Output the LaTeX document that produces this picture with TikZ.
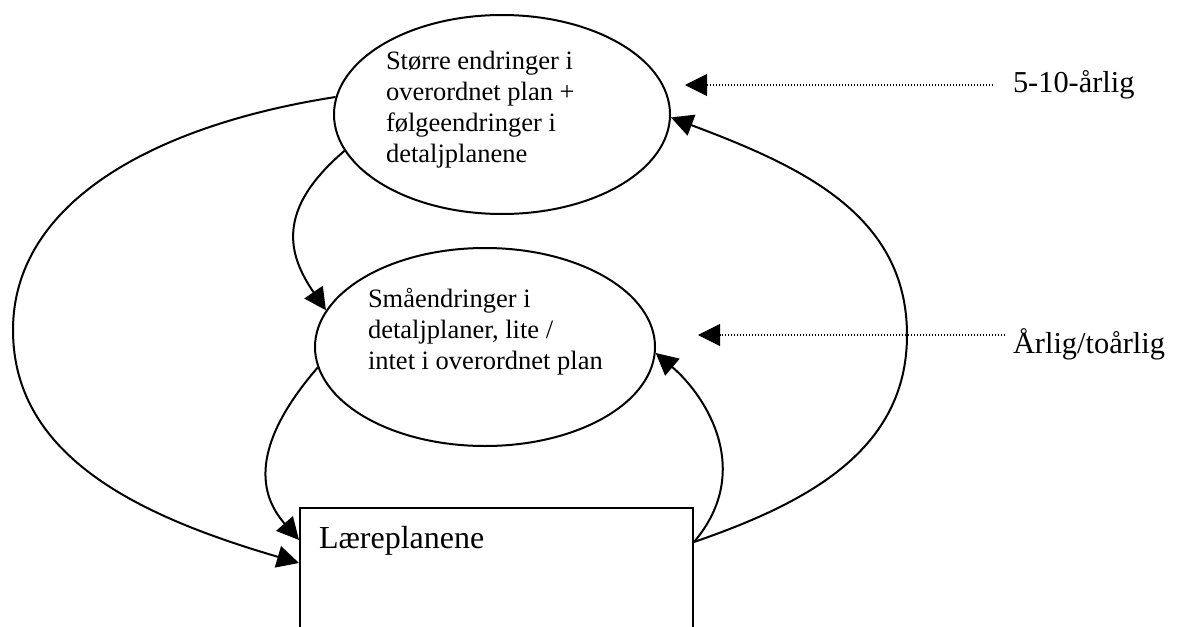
\documentclass[tikz,border=0pt]{standalone}
\usepackage{fontspec}
\setmainfont{Liberation Serif}
\usetikzlibrary{arrows.meta,shapes.geometric,calc}

\begin{document}
\begin{tikzpicture}[x=0.5pt,y=-0.5pt,line width=1pt,
  bubble/.style={draw,ellipse,inner sep=0pt},
  bubbletext/.style={inner sep=0pt,align=left,font=\fontsize{13.25pt}{15.6pt}\selectfont},
  planbox/.style={draw,rectangle,inner sep=0pt},
  sidelabel/.style={inner sep=0pt,font=\fontsize{15.2pt}{18pt}\selectfont},
  flow/.style={-{Triangle[length=11pt,width=11pt]}},
  pace/.style={line width=0.55pt,dash pattern=on 0.55pt off 0.95pt,-{Triangle[length=11pt,width=11pt]}}]
\useasboundingbox (0,0) rectangle (1192,626);

% the two kinds of revision
\node[bubble,minimum width=168pt,minimum height=99.5pt] (major) at (502,114.5) {};
\node[bubbletext,anchor=north west] (majortext) at (385,50)
  {Større endringer i\\overordnet plan +\\følgeendringer i\\detaljplanene};

\node[bubble,minimum width=170pt,minimum height=99pt] (minor) at (485,347) {};
\node[bubbletext,anchor=north west] (minortext) at (367,287)
  {Småendringer i\\detaljplaner, lite /\\intet i overordnet plan};

% the curricula themselves
\node[planbox,anchor=north west,minimum width=196.5pt,minimum height=100pt] (plans) at (299,507) {};
\node[inner sep=0pt,anchor=base west,font=\fontsize{16pt}{19pt}\selectfont] (planstext) at (318,548) {Læreplanene};

% how often each kind occurs
\node[sidelabel,anchor=base west] (rare) at (1012,93) {5-10-årlig};
\node[sidelabel,anchor=base west] (often) at (1012,353) {Årlig/toårlig};
\coordinate (rarefrom) at (993,85);
\coordinate (rareto) at (685,85);
\coordinate (oftenfrom) at (1005,335);
\coordinate (oftento) at (698,335);
\draw[pace] (rarefrom) -- (rareto);
\draw[pace] (oftenfrom) -- (oftento);

% cycle connectors
\draw[flow] (major.174.4) .. controls (155,125) and (13,202) .. (13,330)
  .. controls (13,458) and (142,517) .. ($(plans.north west)+(0,56)$);
\draw[flow] (major.193.3) .. controls (275,210) and (288,255) .. (minor.167.5);
\draw[flow] (minor.187.4) .. controls (255,440) and (255,490) .. ($(plans.north west)+(0,33)$);
\draw[flow] ($(plans.north east)+(0,35)$) .. controls (755,470) and (705,395) .. (minor.358);
\draw[flow] ($(plans.north east)+(0,35)$) .. controls (810,502) and (907,449) .. (907,335)
  .. controls (907,214) and (800,166) .. (major.359);
\end{tikzpicture}
\end{document}
